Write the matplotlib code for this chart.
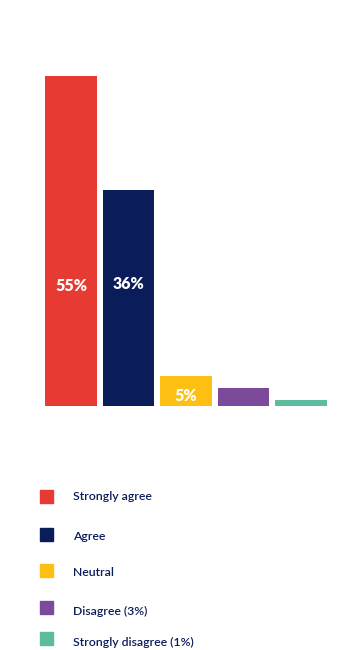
import matplotlib
matplotlib.use('Agg')
from matplotlib import pyplot as plt
from matplotlib.patches import Rectangle

categories = ['Strongly agree', 'Agree', 'Neutral', 'Disagree (3%)', 'Strongly disagree (1%)']
values = [55, 36, 5, 3, 1]
bar_labels = ['55%', '36%', '5%', '', '']
colors = ['#E63A33', '#0B1C5A', '#FDBF12', '#7B4A9B', '#5DBBA0']
label_y = [20.0, 20.4, 1.6]

W, H = 364, 650
fig = plt.figure(figsize=(W / 100, H / 100), dpi=100)

# bar area: baseline at 406 px, top of 55% bar at 76 px
ax = fig.add_axes([0, (H - 406) / H, 1, 330 / H])
x = list(range(len(values)))
ax.bar(x, values, width=0.9, color=colors)
for i, lab in enumerate(bar_labels):
    if lab:
        ax.text(i, label_y[i], lab, ha='center', va='center', color='white',
                fontsize=11.5, fontweight='heavy', family='Lato')
ax.set_xlim(-71 / 57.5, (W - 71) / 57.5)
ax.set_ylim(0, 55)
ax.axis('off')

# legend drawn by hand
sq_y = [496.5, 534.5, 570.5, 607.5, 638.5]
txt_y = [497, 537, 572, 611, 642]
for i, cat in enumerate(categories):
    fig.patches.append(Rectangle((40 / W, 1 - (sq_y[i] + 6.5) / H), 13 / W, 13 / H,
                                 transform=fig.transFigure, color=colors[i]))
    fig.text(73 / W, 1 - txt_y[i] / H, cat, ha='left', va='center',
             color='#0B1C5A', fontsize=8.8, fontweight='semibold', family='Lato')

fig.savefig('out.png', dpi=100)
